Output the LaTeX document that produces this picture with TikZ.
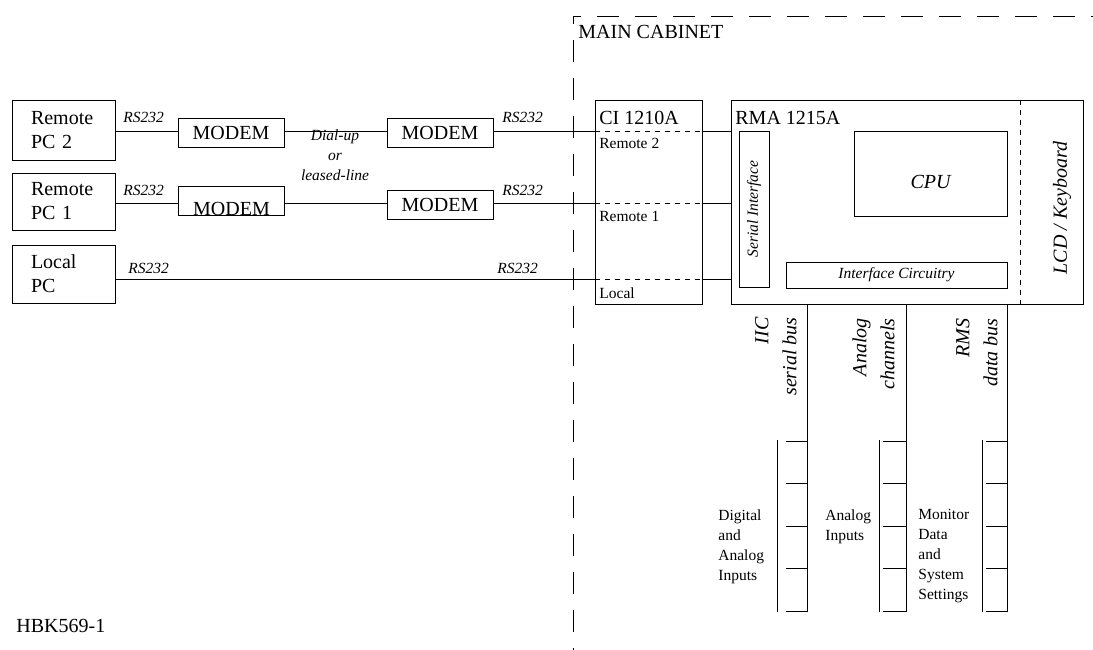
\documentclass[tikz,border=0pt]{standalone}
\usepackage{fontspec}
\setmainfont{Liberation Serif}
\usetikzlibrary{positioning}
\newcommand{\bigtxt}{\fontsize{20}{24}\selectfont}
\newcommand{\bustxt}{\fontsize{20}{28}\selectfont}
\newcommand{\smalltxt}{\fontsize{15.5}{20}\selectfont}

\begin{document}
\begin{tikzpicture}[x=1pt, y=-1pt, line width=0.8pt,
    box/.style={draw, rectangle, inner sep=0pt},
    pcbox/.style={box, minimum width=103pt, text width=65pt, inner xsep=19pt, align=left, font=\bigtxt},
    modem/.style={box, minimum width=106pt, minimum height=29pt, font=\bigtxt},
    lbl/.style={inner sep=0pt, font=\smalltxt\itshape},
    port/.style={anchor=base west, inner sep=0pt, font=\smalltxt},
    title/.style={anchor=base west, inner sep=0pt, font=\bigtxt},
    buslbl/.style={rotate=90, anchor=south east, align=right, inner sep=0pt, font=\bustxt\itshape},
    inlbl/.style={anchor=north west, align=left, inner sep=0pt, font=\smalltxt},
    cabinet/.style={dash pattern=on 22pt off 16pt, dash phase=14pt},
    innerdash/.style={dash pattern=on 5pt off 5pt}
]

\useasboundingbox (0,0) rectangle (1093,650);

% Rows of the serial links
\coordinate (row2) at (0,131);
\coordinate (row1) at (0,203);
\coordinate (rowl) at (0,279);

% Computers
\node[pcbox, minimum height=60pt] (pc2) at (63.5,130) {Remote\\PC 2};
\node[pcbox, minimum height=57pt] (pc1) at (63.5,201.5) {Remote\\PC 1};
\node[pcbox, minimum height=58pt] (local) at (63.5,274) {Local\\PC};

% Modems
\node[modem] (mtl) at (231,132.5) {MODEM};
\node[modem] (mtr) at (440,132.5) {MODEM};
\node[modem] (mbl) at (231.5,200.5) {};
\begin{scope}
  \clip (mbl.south west) rectangle (mbl.north east);
  \node[font=\bigtxt, inner sep=0pt] (mbltxt) at ([yshift=-8pt]mbl.center) {MODEM};
\end{scope}
\node[modem] (mbr) at (440,204.5) {MODEM};

% Main cabinet
\coordinate (cabcorner) at (573,16);
\draw[cabinet] (cabcorner) -- (573,650);
\draw[cabinet] (cabcorner) -- (1093,16);
\node[title] (cabtitle) at (578,39) {MAIN CABINET};

% CI 1210A
\node[box, minimum width=107pt, minimum height=204pt] (ci) at (648.5,202) {};
\node[title] (citxt) at (599,125) {CI 1210A};
\node[port] (port2) at (599,149) {Remote 2};
\node[port] (port1) at (599,222) {Remote 1};
\node[port] (portl) at (599,298) {Local};

% RMA 1215A
\node[box, minimum width=352pt, minimum height=204pt] (rma) at (907,202) {};
\node[title] (rmatxt) at (735,125) {RMA 1215A};
\node[box, rotate=90, minimum width=156pt, minimum height=30pt, font=\smalltxt\itshape] (serial) at (754,209) {Serial Interface};
\node[box, minimum width=153pt, minimum height=85pt] (cpu) at (930.5,173.5) {};
\node[font=\bigtxt\itshape, inner sep=0pt] (cputxt) at ([yshift=-8pt]cpu.center) {CPU};
\node[box, minimum width=221pt, minimum height=26pt, font=\smalltxt\itshape] (iface) at (896.5,275) {Interface Circuitry};
\draw[innerdash] ([xshift=-63pt]rma.north east) -- ([xshift=-63pt]rma.south east);
\node[rotate=90, inner sep=0pt, font=\bigtxt\itshape] (lcd) at (1062,208) {LCD / Keyboard};

% Links
\draw (pc2.east |- row2) -- (mtl.west |- row2);
\draw (mtl.east |- row2) -- (mtr.west |- row2);
\draw (mtr.east |- row2) -- (ci.west |- row2);
\draw (pc1.east |- row1) -- (mbl.west |- row1);
\draw (mbl.east |- row1) -- (mbr.west |- row1);
\draw (mbr.east |- row1) -- (ci.west |- row1);
\draw (local.east |- rowl) -- (ci.west |- rowl);
\foreach \r in {row2,row1,rowl} {
  \draw[innerdash] (ci.west |- \r) -- (ci.east |- \r);
  \draw (ci.east |- \r) -- (rma.west |- \r);
}
\node[lbl, anchor=base west] (rs2a) at (123,123) {RS232};
\node[lbl, anchor=base west] (rs2b) at (502,123) {RS232};
\node[lbl, anchor=base west] (rs1a) at (123,196) {RS232};
\node[lbl, anchor=base west] (rs1b) at (502,196) {RS232};
\node[lbl, anchor=base west] (rsla) at (128,273) {RS232};
\node[lbl, anchor=base west] (rslb) at (497,273) {RS232};
\node[lbl, align=center] (dial) at (335,155) {Dial-up\\or\\leased-line};

% Buses
\coordinate (iicend) at (807,612);
\coordinate (anaend) at (906,612);
\coordinate (rmsend) at (1007,612);
\draw (rma.south -| iicend) -- (iicend);
\draw (rma.south -| anaend) -- (anaend);
\draw (rma.south -| rmsend) -- (rmsend);
\node[buslbl] (iiclbl) at (797,317) {IIC\\serial bus};
\node[buslbl] (analbl) at (895,318) {Analog\\channels};
\node[buslbl] (rmslbl) at (998,318) {RMS\\data bus};

% Input stacks
\foreach \xl/\xs/\xb in {777/786/807, 879/883/906, 982/986/1007} {
  \draw (\xl,440) -- (\xl,612);
  \foreach \y in {441,483.5,526,568.5,611}
    \draw (\xs,\y) -- (\xb,\y);
}
\node[inlbl] (diglbl) at (718,509) {Digital\\and\\Analog\\Inputs};
\node[inlbl] (analin) at (825,509) {Analog\\Inputs};
\node[inlbl] (monlbl) at (918,509) {Monitor\\Data\\and\\System\\Settings};

\node[title] (fignum) at (16,632) {HBK569-1};

\end{tikzpicture}
\end{document}
